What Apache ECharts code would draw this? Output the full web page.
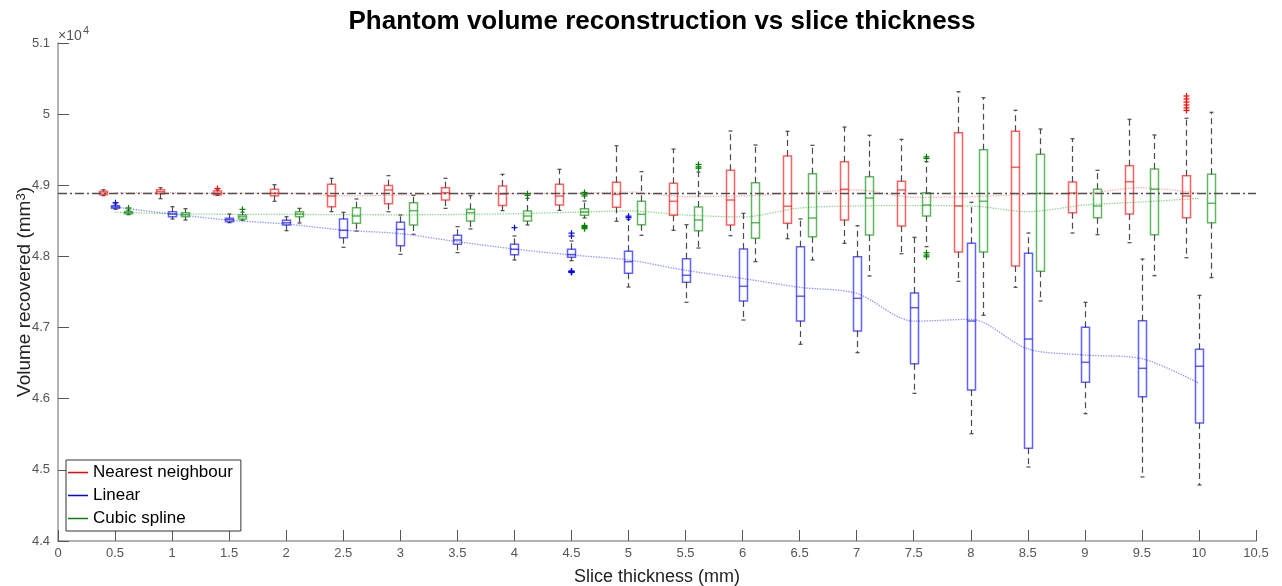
<!DOCTYPE html>
<html><head><meta charset="utf-8">
<script src="https://cdn.jsdelivr.net/npm/echarts@6/dist/echarts.min.js"></script>
<style>html,body{margin:0;padding:0;background:#fff}#c{width:1282px;height:586px}</style>
</head><body><div id="c"></div>
<script>
// ---------- DATA ----------
const thickness = [0.5,1,1.5,2,2.5,3,3.5,4,4.5,5,5.5,6,6.5,7,7.5,8,8.5,9,9.5,10];
const trueVolume = 48886;
// box stats: [lower whisker, Q1, median, Q3, upper whisker] (mm^3)
const nnStats = [
  [48854,48868,48892,48915,48937],[48811,48882,48910,48938,48966],[48859,48868,48887,48920,48934],
  [48775,48854,48887,48944,49008],[48629,48699,48849,49014,49098],[48629,48741,48934,48996,49135],
  [48676,48793,48896,48966,49098],[48643,48716,48878,48990,49154],[48648,48723,48849,49014,49225],
  [48494,48690,48873,49042,49556],[48367,48578,48775,49028,49510],[48291,48442,48793,49211,49763],
  [48249,48466,48705,49412,49759],[48184,48512,48944,49332,49819],[48038,48428,48934,49056,49646],
  [47650,48062,48709,49739,50315],[47566,47865,49253,49759,50054],[48329,48615,48892,49046,49655],
  [48193,48596,49050,49275,49928],[47982,48544,48849,49135,49942]
];
const linStats = [
  [48662,48676,48695,48713,48737],[48526,48558,48596,48629,48699],[48474,48488,48516,48536,48596],
  [48362,48442,48474,48508,48558],[48128,48263,48367,48526,48620],[48030,48150,48381,48480,48582],
  [48053,48170,48231,48297,48418],[47950,48024,48100,48170,48287],[47940,47988,48027,48100,48217],
  [47570,47763,47926,48072,48519],[47355,47636,47735,47968,48446],[47106,47373,47580,48104,48606],
  [46765,47092,47441,48137,48526],[46647,46952,47411,47996,48432],[46076,46492,47279,47486,48269],
  [45508,46122,47092,48185,48761],[45040,45303,46839,48044,48329],[45789,46231,46512,47004,47355],
  [44900,46028,46427,47097,47964],[44787,45659,46456,46695,47454]
];
const cubStats = [
  [48587,48601,48618,48632,48653],[48512,48558,48587,48615,48671],[48508,48526,48558,48582,48624],
  [48470,48558,48596,48629,48676],[48357,48466,48568,48685,48807],[48311,48442,48643,48755,48859],
  [48386,48498,48615,48662,48854],[48442,48498,48568,48639,48817],[48540,48578,48624,48671,48779],
  [48297,48446,48592,48775,49191],[48118,48362,48512,48695,49187],[47926,48255,48474,49036,49566],
  [47950,48277,48540,49163,49562],[47725,48301,48821,49121,49703],[48137,48568,48723,48896,49332],
  [47173,48062,48775,49500,50231],[47374,47791,48887,49436,49791],[48305,48544,48709,48944,49211],
  [47729,48305,48944,49229,49707],[47701,48474,48747,49154,50026]
];
// outliers: [thickness, volume]
const nnOutliers = [[1.5,48955],[10,50255],[10,50213],[10,50171],[10,50129],[10,50087],[10,50052]];
const linOutliers = [[0.5,48755],[4,48404],[4.5,48327],[4.5,48287],[4.5,47795],[4.5,47790],[4.5,47785],[4.5,47780],[4.5,47775],[5,48566],[5,48545]];
const cubOutliers = [[0.5,48681],[1.5,48662],[4,48882],[4,48859],[4.5,48900],[4.5,48875],[4.5,48850],[4.5,48435],[4.5,48420],[4.5,48405],[4.5,48390],
  [5.5,49293],[5.5,49260],[5.5,49240],[7.5,49400],[7.5,49378],[7.5,48052],[7.5,48020],[7.5,47995]];
// mean curves
const nnMean  = [48896,48892,48890,48888,48850,48863,48880,48884,48886,48905,48842,48850,48890,48934,48831,48839,48873,48887,48966,48887];
const linMean = [48695,48596,48510,48456,48370,48320,48207,48104,48020,47950,47805,47690,47566,47480,47090,47116,46700,46614,46562,46217];
const cubMean = [48620,48600,48592,48590,48588,48585,48590,48600,48620,48639,48582,48555,48680,48709,48715,48709,48629,48723,48765,48817];
const seriesNames = ['Nearest neighbour','Linear','Cubic spline'];

// ---------- STYLE ----------
const FONT = 'Liberation Sans, Arial, Helvetica, sans-serif';
const boxColors = ['rgba(255,0,0,0.62)','rgba(0,0,255,0.62)','rgba(0,140,0,0.62)'];
const outColors = ['#ff0000','#0000ff','#008000'];
const meanColors = ['rgba(255,0,0,0.35)','rgba(0,0,255,0.45)','rgba(0,150,0,0.45)'];
const pxOffsets = [-12.5, 0, 12.5];
const BOX_HALF = 4;
const WHISK = '#4a4a4a';

function boxRenderer(i) {
  return function (params, api) {
    const x = api.value(0);
    const c = v => api.coord([x, v]);
    const cx = Math.round(c(api.value(3))[0] + pxOffsets[i]) + 0.5;
    const yLo = c(api.value(1))[1], yQ1 = c(api.value(2))[1], yMed = c(api.value(3))[1],
          yQ3 = c(api.value(4))[1], yHi = c(api.value(5))[1];
    const ws = {stroke: WHISK, lineWidth: 1.2, lineDash: [6, 4], fill: null};
    const cs = {stroke: WHISK, lineWidth: 1.2, fill: null};
    const bs = {stroke: boxColors[i], lineWidth: 1.5, fill: null};
    return {type: 'group', children: [
      {type: 'line', shape: {x1: cx, y1: yQ3, x2: cx, y2: yHi}, style: ws},
      {type: 'line', shape: {x1: cx, y1: yQ1, x2: cx, y2: yLo}, style: ws},
      {type: 'line', shape: {x1: cx - 2, y1: yHi, x2: cx + 2, y2: yHi}, style: cs},
      {type: 'line', shape: {x1: cx - 2, y1: yLo, x2: cx + 2, y2: yLo}, style: cs},
      {type: 'rect', shape: {x: cx - BOX_HALF, y: yQ3, width: 2 * BOX_HALF, height: yQ1 - yQ3}, style: bs},
      {type: 'line', shape: {x1: cx - BOX_HALF, y1: yMed, x2: cx + BOX_HALF, y2: yMed}, style: bs}
    ]};
  };
}
function outlierRenderer(i) {
  return function (params, api) {
    const p = api.coord([api.value(0), api.value(1)]);
    const cx = Math.round(p[0] + pxOffsets[i]) + 0.5, cy = p[1];
    const s = {stroke: outColors[i], lineWidth: 1.2, fill: null};
    return {type: 'group', children: [
      {type: 'line', shape: {x1: cx - 3, y1: cy, x2: cx + 3, y2: cy}, style: s},
      {type: 'line', shape: {x1: cx, y1: cy - 3, x2: cx, y2: cy + 3}, style: s}
    ]};
  };
}

const statsAll = [nnStats, linStats, cubStats];
const outAll = [nnOutliers, linOutliers, cubOutliers];
const meanAll = [nnMean, linMean, cubMean];

const series = [];
meanAll.forEach((m, i) => {
  series.push({
    name: 'mean' + i, type: 'line', silent: true, symbol: 'none', smooth: 0.3, z: 1,
    data: thickness.map((t, k) => [t, m[k]]),
    lineStyle: {type: 'dotted', width: 1.3, color: meanColors[i]},
    markLine: i === 0 ? {
      silent: true, symbol: ['none', 'none'], label: {show: false},
      lineStyle: {type: [9, 3, 2, 3], color: '#505050', width: 1.3},
      data: [{yAxis: trueVolume}]
    } : undefined
  });
});
statsAll.forEach((st, i) => {
  series.push({
    name: seriesNames[i], type: 'custom', z: 3,
    itemStyle: {color: outColors[i]},
    renderItem: boxRenderer(i),
    encode: {x: 0, y: [1, 2, 3, 4, 5]},
    data: thickness.map((t, k) => [t].concat(st[k]))
  });
  series.push({
    name: 'out' + i, type: 'custom', z: 4,
    renderItem: outlierRenderer(i),
    encode: {x: 0, y: 1},
    data: outAll[i]
  });
});

const chart = echarts.init(document.getElementById('c'), null, {renderer: 'canvas'});
chart.setOption({
  animation: false,
  backgroundColor: '#fff',
  textStyle: {fontFamily: FONT},
  title: {
    text: 'Phantom volume reconstruction vs slice thickness',
    left: 657, top: 4, textAlign: 'center',
    textStyle: {fontSize: 26, fontWeight: 'bold', color: '#000', fontFamily: FONT}
  },
  grid: {left: 58, right: 26, top: 43, bottom: 45, containLabel: false, outerBoundsMode: 'none'},
  legend: {
    data: seriesNames, orient: 'vertical', left: 66, top: 460,
    icon: 'rect', itemWidth: 20, itemHeight: 1.5, itemGap: 6,
    padding: [4, 8, 4, 2], borderColor: '#333', borderWidth: 1, backgroundColor: '#fff',
    textStyle: {fontSize: 17, color: '#000', fontFamily: FONT}, selectedMode: false
  },
  xAxis: {
    type: 'value', min: 0, max: 10.5, interval: 0.5,
    name: 'Slice thickness (mm)', nameLocation: 'middle', nameGap: 27, nameMoveOverlap: false,
    nameTextStyle: {fontSize: 18, color: '#222', fontFamily: FONT},
    axisLine: {show: true, onZero: false, lineStyle: {color: '#9a9a9a', width: 1.5}},
    axisTick: {show: true, inside: true, length: 11, lineStyle: {color: '#555', width: 1}},
    axisLabel: {fontSize: 13, color: '#555', margin: 6, fontFamily: FONT},
    splitLine: {show: false}
  },
  yAxis: {
    type: 'value', min: 44000, max: 51000, interval: 1000,
    name: 'Volume recovered (mm{sup|3})', nameLocation: 'middle', nameGap: 24, nameRotate: 90,
    nameMoveOverlap: false,
    nameTextStyle: {fontSize: 19, color: '#222', fontFamily: FONT,
      rich: {sup: {fontSize: 13, color: '#222', verticalAlign: 'top', fontFamily: FONT}}},
    axisLine: {show: true, lineStyle: {color: '#9a9a9a', width: 1.5}},
    axisTick: {show: true, inside: true, length: 11, lineStyle: {color: '#555', width: 1}},
    axisLabel: {fontSize: 13, color: '#555', margin: 8, fontFamily: FONT,
      formatter: v => String(+(v / 1e4).toFixed(2))},
    splitLine: {show: false}
  },
  graphic: [
    {type: 'text', left: 58, top: 29, style: {text: '×10', fill: '#555', font: '14px ' + FONT}},
    {type: 'text', left: 83, top: 25, style: {text: '4', fill: '#555', font: '11px ' + FONT}}
  ],
  series: series
});
</script>
</body></html>
